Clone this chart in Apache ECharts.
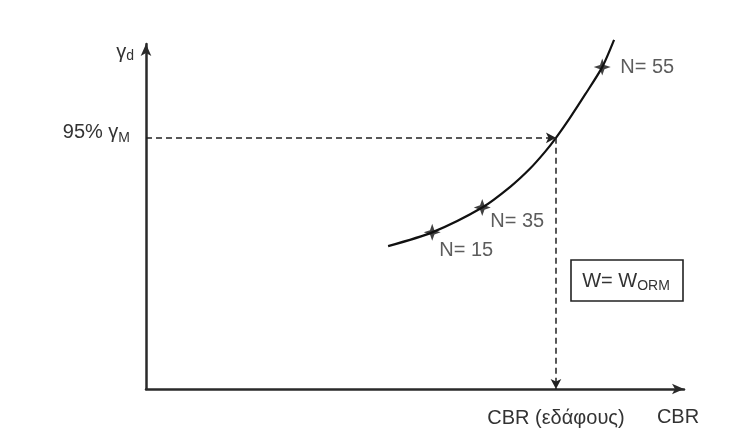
<!DOCTYPE html>
<html>
<head>
<meta charset="utf-8">
<script src="https://cdn.jsdelivr.net/npm/echarts@6/dist/echarts.min.js"></script>
<style>
html,body{margin:0;padding:0;background:#fff;}
#chart{width:739px;height:437px;}
</style>
</head>
<body>
<div id="chart"></div>
<script>
// Curve (CBR vs dry unit weight), abstract units 0..100
const curveX = [45.0, 53.2, 62.5, 67.7, 71.4, 74.2, 76.2, 78.8, 81.6, 84.8, 87.0];
const curveY = [41.4, 45.4, 52.6, 58.6, 63.9, 68.8, 72.8, 78.6, 85.3, 93.3, 101.2];
// Compaction points
const pointX = [53.2, 62.5, 84.8];
const pointY = [45.4, 52.6, 93.3];
const pointLabels = ['N= 15', 'N= 35', 'N= 55'];
// 95% γM reference
const refY = 72.8;
const refX = 76.2;

const FONT = '"Liberation Sans", Arial, sans-serif';
const TXT = '#333';
const FS = 20;

const chart = echarts.init(document.getElementById('chart'), null, {renderer: 'canvas'});

const labelOffsets = [[7, 18], [8, 14], [18, 0]];

const option = {
  backgroundColor: '#fff',
  animation: false,
  grid: {left: 146, right: 55, top: 44, bottom: 48, containLabel: false, outerBoundsMode: 'none'},
  xAxis: {
    type: 'value', min: 0, max: 100,
    axisLine: {show: true, symbol: ['none', 'arrow'], symbolSize: [8, 12], lineStyle: {color: '#2a2a2a', width: 2.5}},
    axisTick: {show: false}, axisLabel: {show: false}, splitLine: {show: false},
    name: 'CBR', nameLocation: 'end', nameGap: -6,
    nameTextStyle: {color: TXT, fontSize: FS, fontFamily: FONT, verticalAlign: 'top', align: 'center', padding: [18, 0, 0, 0]}
  },
  yAxis: {
    type: 'value', min: 0, max: 100,
    axisLine: {show: true, symbol: ['none', 'arrow'], symbolSize: [8, 12], lineStyle: {color: '#2a2a2a', width: 2.5}},
    axisTick: {show: false}, axisLabel: {show: false}, splitLine: {show: false}
  },
  series: [
    {
      type: 'line',
      data: curveX.map((x, i) => [x, curveY[i]]),
      smooth: 0.25,
      clip: false,
      showSymbol: false,
      lineStyle: {color: '#111', width: 2.2},
      markLine: {
        silent: true,
        symbol: ['none', 'arrow'],
        symbolSize: [8, 10],
        lineStyle: {color: '#222', type: [6, 4], width: 1.5},
        label: {show: false},
        data: [
          [{coord: [0, refY]}, {coord: [refX, refY]}],
          [{coord: [refX, refY]}, {coord: [refX, 0],
            label: {show: true, position: 'end', formatter: 'CBR (εδάφους)', color: TXT, fontSize: FS, fontFamily: FONT, distance: 19}}]
        ]
      }
    },
    {
      type: 'scatter',
      data: pointX.map((x, i) => ({
        value: [x, pointY[i]],
        label: {offset: labelOffsets[i], formatter: pointLabels[i]}
      })),
      symbol: 'path://M0,-10 L2.6,-2.6 L10,0 L2.6,2.6 L0,10 L-2.6,2.6 L-10,0 L-2.6,-2.6 Z',
      symbolSize: 17,
      clip: false,
      itemStyle: {color: '#111'},
      label: {show: true, position: 'inside', align: 'left', verticalAlign: 'middle', color: TXT, fontSize: FS, fontFamily: FONT}
    }
  ]
};
chart.setOption(option);

const yRefPx = chart.convertToPixel({gridIndex: 0}, [0, refY])[1];
const axisTopPx = chart.convertToPixel({gridIndex: 0}, [0, 100]);

const rich = (sub) => ({
  g: {fontSize: FS, fontFamily: FONT, fill: TXT},
  s: {fontSize: 14, fontFamily: FONT, fill: TXT, padding: [sub, 0, 0, 0]}
});

chart.setOption({
  graphic: [
    {
      type: 'text', x: axisTopPx[0] - 12, y: axisTopPx[1] + 8,
      style: {text: '{g|γ}{s|d}', align: 'right', verticalAlign: 'middle', rich: rich(9)}
    },
    {
      type: 'text', x: axisTopPx[0] - 16, y: yRefPx - 5,
      style: {text: '{g|95% γ}{s|M}', align: 'right', verticalAlign: 'middle', rich: rich(10)}
    },
    {
      type: 'rect', shape: {x: 571, y: 260, width: 112, height: 41},
      style: {fill: '#fff', stroke: '#222', lineWidth: 1.6}
    },
    {
      type: 'text', x: 626, y: 281,
      style: {text: '{g|W= W}{s|ORM}', align: 'center', verticalAlign: 'middle', rich: rich(10)}
    }
  ]
});
</script>
</body>
</html>
